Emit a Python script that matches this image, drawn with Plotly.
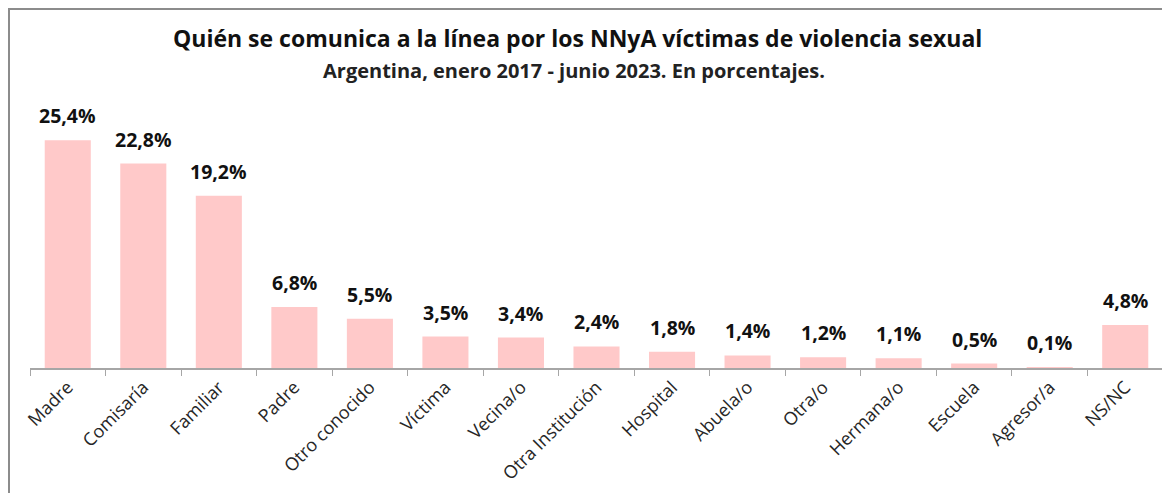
import plotly.graph_objects as go

# quién se comunica con la línea (NNyA víctimas de violencia sexual)
categorias = ["Madre", "Comisaría", "Familiar", "Padre", "Otro conocido", "Víctima",
              "Vecina/o", "Otra Institución", "Hospital", "Abuela/o", "Otra/o",
              "Hermana/o", "Escuela", "Agresor/a", "NS/NC"]
porcentajes = [25.4, 22.8, 19.2, 6.8, 5.5, 3.5, 3.4, 2.4, 1.8, 1.4, 1.2, 1.1, 0.5, 0.1, 4.8]

titulo = "Quién se comunica a la línea por los NNyA víctimas de violencia sexual"
subtitulo = "Argentina, enero 2017 - junio 2023. En porcentajes."

FONT = "Open Sans"
OFF = 8  # margen del body de la página
W, H = 1170 - OFF, 493 - OFF
L, R, T, B = 30 - OFF, 7, 99 - OFF, 125
pw, ph = W - L - R, H - T - B


def px_x(x):
    return (x - OFF - L) / pw


def px_y(y):
    return 1 + (T - (y - OFF)) / ph


etiquetas = [f"{v:.1f}%".replace(".", ",") for v in porcentajes]

fig = go.Figure(go.Bar(
    x=categorias,
    y=porcentajes,
    marker=dict(color="#FFC9C9", line=dict(width=0)),
    width=0.61,
    hoverinfo="x+y",
))

for c, v, t in zip(categorias, porcentajes, etiquetas):
    fig.add_annotation(x=c, y=v, text=f"<b>{t}</b>", showarrow=False,
                       yanchor="bottom", yshift=9,
                       font=dict(family=FONT, size=19.5, color="#111111"))

fig.add_annotation(xref="paper", yref="paper", x=px_x(577), y=px_y(38),
                   yanchor="middle", text=f"<b>{titulo}</b>", showarrow=False,
                   font=dict(family=FONT, size=23, color="#111111"))
fig.add_annotation(xref="paper", yref="paper", x=px_x(574), y=px_y(70),
                   yanchor="middle", text=f"<b>{subtitulo}</b>", showarrow=False,
                   font=dict(family=FONT, size=20, color="#222222"))

# marco gris del gráfico
fig.add_shape(type="rect", xref="paper", yref="paper",
              x0=px_x(9), x1=px_x(1200), y0=px_y(520), y1=px_y(9),
              line=dict(color="#8c8c8c", width=2), layer="below")

fig.update_layout(
    width=W, height=H,
    margin=dict(l=L, r=R, t=T, b=B, autoexpand=False),
    paper_bgcolor="white",
    plot_bgcolor="white",
    showlegend=False,
    bargap=0.39,
)
fig.update_xaxes(
    type="category",
    tickangle=-45,
    tickson="boundaries",
    ticks="outside", ticklen=6, tickcolor="#a6a6a6",
    showline=True, linecolor="#a6a6a6", linewidth=1.5,
    tickfont=dict(family=FONT, size=18, color="#262626"),
    showgrid=False, automargin=False,
)
fig.update_yaxes(range=[0, 30], visible=False, showgrid=False)

fig.write_html("out.html")
